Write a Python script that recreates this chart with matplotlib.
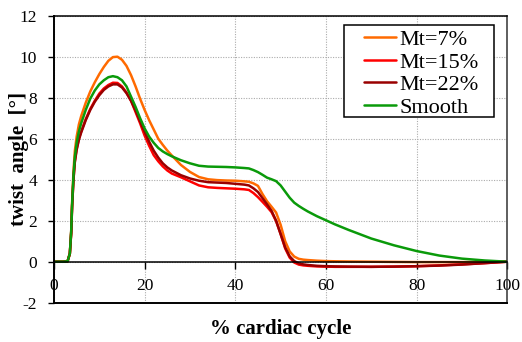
import matplotlib
matplotlib.use("Agg")
import matplotlib.pyplot as plt
from matplotlib.patches import Rectangle

plt.rcParams["font.family"] = ["Liberation Serif", "DejaVu Serif"]
plt.rcParams["axes.unicode_minus"] = False

# % of cardiac cycle
cycle = [0, 1, 2, 3, 3.5, 3.8, 4, 4.3, 4.6, 5, 5.5, 6, 7, 8, 9, 10, 11, 12, 13,
         14, 15, 16, 17, 18, 19, 20, 21, 22, 23, 24, 25, 26, 28, 30, 32, 34, 36,
         38, 40, 42, 43, 44, 45, 46, 47, 48, 49, 50, 51, 52, 53, 54, 55, 56, 58,
         60, 62, 65, 70, 75, 80, 85, 90, 95, 100]

# twist angle [deg] for each case
mt7 = [0, 0, 0, 0.02, 0.4, 1.5, 2.9, 4.4, 5.4, 6.1, 6.7, 7.1, 7.75, 8.3, 8.75,
       9.15, 9.5, 9.8, 9.98, 10.0, 9.85, 9.55, 9.1, 8.55, 7.95, 7.4, 6.9, 6.45,
       6.0, 5.7, 5.42, 5.18, 4.72, 4.38, 4.13, 4.02, 3.98, 3.96, 3.95, 3.92,
       3.9, 3.82, 3.7, 3.3, 2.95, 2.68, 2.4, 1.8, 1.0, 0.5, 0.25, 0.14, 0.1,
       0.08, 0.05, 0.03, 0.02, 0.01, 0.0, -0.01, -0.02, -0.02, -0.02, -0.01, 0]

mt15 = [0, 0, 0, 0.02, 0.4, 1.4, 2.7, 4.0, 4.9, 5.5, 6.0, 6.35, 6.95, 7.45, 7.85,
        8.2, 8.45, 8.62, 8.73, 8.72, 8.55, 8.25, 7.85, 7.3, 6.75, 6.15, 5.65,
        5.2, 4.9, 4.65, 4.45, 4.3, 4.12, 3.92, 3.72, 3.63, 3.6, 3.58, 3.56,
        3.53, 3.5, 3.35, 3.15, 2.92, 2.68, 2.42, 1.98, 1.35, 0.65, 0.2, -0.04,
        -0.14, -0.18, -0.2, -0.23, -0.24, -0.25, -0.25, -0.25, -0.24, -0.22,
        -0.18, -0.13, -0.07, 0]

mt22 = [0, 0, 0, 0.02, 0.4, 1.4, 2.7, 4.0, 4.85, 5.45, 5.95, 6.3, 6.9, 7.4, 7.8,
        8.12, 8.38, 8.55, 8.65, 8.65, 8.5, 8.22, 7.85, 7.38, 6.85, 6.35, 5.85,
        5.42, 5.08, 4.8, 4.6, 4.45, 4.22, 4.06, 3.95, 3.88, 3.86, 3.84, 3.8,
        3.76, 3.72, 3.58, 3.4, 3.1, 2.8, 2.48, 2.0, 1.35, 0.7, 0.26, 0.03,
        -0.08, -0.13, -0.16, -0.2, -0.22, -0.23, -0.24, -0.25, -0.24, -0.22,
        -0.19, -0.14, -0.07, 0]

smooth = [0, 0, 0, 0.02, 0.4, 1.5, 2.8, 4.2, 5.1, 5.8, 6.35, 6.75, 7.4, 7.95,
          8.35, 8.65, 8.85, 9.0, 9.05, 9.0, 8.85, 8.55, 8.05, 7.55, 7.0, 6.5,
          6.1, 5.8, 5.55, 5.38, 5.25, 5.14, 4.95, 4.8, 4.68, 4.64, 4.63, 4.62,
          4.6, 4.57, 4.55, 4.47, 4.37, 4.24, 4.1, 4.02, 3.93, 3.72, 3.42, 3.12,
          2.88, 2.72, 2.58, 2.45, 2.22, 2.02, 1.82, 1.55, 1.13, 0.8, 0.52, 0.3,
          0.15, 0.06, 0.0]

labels = ["Mt=7%", "Mt=15%", "Mt=22%", "Smooth"]
colors = ["#FF6A00", "#FF0000", "#990000", "#0A9A0A"]
series = [mt7, mt15, mt22, smooth]

xticks = [0, 20, 40, 60, 80, 100]
yticks = [-2, 0, 2, 4, 6, 8, 10, 12]

fig = plt.figure(figsize=(5.22, 3.42), dpi=100)
ax = fig.add_axes([0.1034, 0.1149, 0.8684, 0.8392])

for ys, c, lab in zip(series, colors, labels):
    ax.plot(cycle, ys, color=c, lw=1.8, label=lab, solid_capstyle="round")

ax.set_xlim(0, 100)
ax.set_ylim(-2, 12)
ax.set_xticks(xticks)
ax.set_yticks(yticks)

ax.grid(True, color="#ababab", linestyle=(0, (1.0, 1.3)), lw=0.8)
ax.set_axisbelow(True)

# x axis runs along zero; frame closes at the bottom of the range
ax.spines["bottom"].set_position(("data", 0))
ax.spines["bottom"].set_linewidth(1.1)
ax.spines["left"].set_linewidth(1.4)
ax.spines["top"].set_linewidth(1.1)
ax.spines["right"].set_linewidth(1.1)
ax.spines["right"].set_color("#333333")
ax.axhline(-2, color="black", lw=1.4, clip_on=False, zorder=5)

ax.tick_params(axis="x", direction="out", length=5, width=1, pad=7,
               labelsize=12.5)
ax.tick_params(axis="y", direction="out", length=4, width=1, pad=8,
               labelsize=12.5)

ax.set_xlabel("% cardiac cycle", fontsize=15, fontweight="bold", va="center")
ax.xaxis.set_label_coords(0.5, -0.093)
ax.set_ylabel("twist  angle  [°]", fontsize=15, fontweight="bold", va="center")
ax.yaxis.set_label_coords(-0.077, 0.5)

leg = ax.legend(loc="upper left", bbox_to_anchor=(0.684, 0.952),
                frameon=False, fontsize=16, borderpad=0, borderaxespad=0,
                handlelength=1.45, handletextpad=0.15, labelspacing=0.09)
ax.add_patch(Rectangle((0.6404, 0.646), 0.9713 - 0.6404, 0.9666 - 0.646,
                       transform=ax.transAxes, fill=True, facecolor="white",
                       edgecolor="black", lw=1.1, zorder=4))
leg.set_zorder(6)

fig.savefig("out.png", dpi=100)
